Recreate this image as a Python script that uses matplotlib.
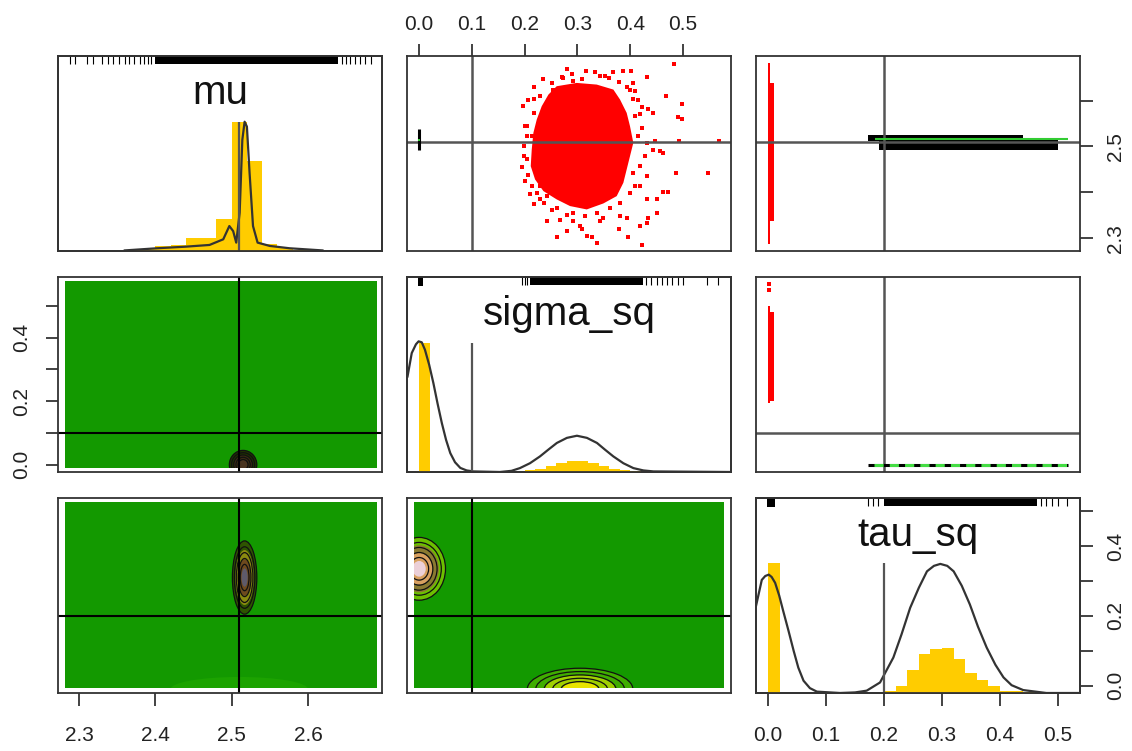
import matplotlib
matplotlib.use('Agg')
import matplotlib.pyplot as plt
from matplotlib.patches import Ellipse, Rectangle
import numpy as np

plt.rcParams['font.family'] = ['Liberation Sans', 'DejaVu Sans']

# ---- data ----
var_names = ['mu', 'sigma_sq', 'tau_sq']
var_lims = [(2.2725, 2.697), (-0.023, 0.591), (-0.021, 0.538)]
true_vals = [2.51, 0.1, 0.2]
img_ranges = [(2.282, 2.690), (-0.010, 0.577), (-0.008, 0.526)]

mu_ticks = [2.3, 2.4, 2.5, 2.6]
frac_ticks = [0.0, 0.1, 0.2, 0.3, 0.4, 0.5]

# histograms (bin left edge, relative height), bin width 0.02
mu_bins = [2.36, 2.38, 2.40, 2.42, 2.44, 2.46, 2.48, 2.50, 2.52, 2.54, 2.56, 2.58, 2.60]
mu_hist = [0.005, 0.009, 0.026, 0.031, 0.065, 0.065, 0.162, 0.663, 0.459, 0.034, 0.017, 0.005, 0.004]
sigma_bins = [0.0, 0.20, 0.22, 0.24, 0.26, 0.28, 0.30, 0.32, 0.34, 0.36, 0.38, 0.40, 0.42]
sigma_hist = [0.66, 0.008, 0.014, 0.030, 0.046, 0.058, 0.058, 0.046, 0.030, 0.016, 0.008, 0.004, 0.002]
tau_bins = [0.0, 0.20, 0.22, 0.24, 0.26, 0.28, 0.30, 0.32, 0.34, 0.36, 0.38, 0.40, 0.42, 0.44]
tau_hist = [0.667, 0.012, 0.037, 0.117, 0.199, 0.225, 0.232, 0.173, 0.105, 0.066, 0.037, 0.012, 0.008, 0.003]

# density curves (relative height)
mu_dens_x = [2.360, 2.402, 2.439, 2.471, 2.489, 2.497, 2.502, 2.506, 2.5105, 2.514, 2.517,
             2.520, 2.5235, 2.528, 2.534, 2.550, 2.576, 2.619]
mu_dens_y = [0.003, 0.014, 0.022, 0.031, 0.060, 0.128, 0.102, 0.043, 0.196, 0.570, 0.663,
             0.638, 0.400, 0.128, 0.043, 0.026, 0.014, 0.003]
sigma_dens_x = [-0.022, -0.014, -0.006, -0.001, 0.005, 0.011, 0.019, 0.027, 0.035, 0.043, 0.051,
                0.059, 0.068, 0.078, 0.090, 0.103, 0.153, 0.175, 0.191, 0.210, 0.229, 0.245,
                0.261, 0.280, 0.299, 0.318, 0.337, 0.352, 0.368, 0.387, 0.406, 0.425, 0.444, 0.589]
sigma_dens_y = [0.49, 0.61, 0.655, 0.67, 0.665, 0.627, 0.55, 0.456, 0.35, 0.251, 0.165,
                0.097, 0.05, 0.021, 0.008, 0.003, 0.0, 0.006, 0.02, 0.045, 0.08, 0.115,
                0.149, 0.175, 0.186, 0.175, 0.149, 0.115, 0.08, 0.045, 0.02, 0.008, 0.003, 0.0]
tau_dens_x = [-0.021, -0.011, -0.005, 0.001, 0.006, 0.012, 0.019, 0.026, 0.035, 0.044, 0.052,
              0.061, 0.072, 0.084, 0.124, 0.150, 0.170, 0.193, 0.216, 0.230, 0.245, 0.260,
              0.274, 0.286, 0.297, 0.309, 0.320, 0.334, 0.348, 0.362, 0.377, 0.392, 0.406,
              0.420, 0.440, 0.480, 0.538]
tau_dens_y = [0.446, 0.58, 0.60, 0.607, 0.595, 0.565, 0.50, 0.42, 0.32, 0.216, 0.13,
              0.063, 0.025, 0.007, 0.0, 0.003, 0.012, 0.054, 0.182, 0.30, 0.437, 0.54,
              0.624, 0.652, 0.662, 0.652, 0.624, 0.55, 0.454, 0.34, 0.233, 0.145, 0.08,
              0.04, 0.015, 0.0, 0.0]

# rugs: dense band (lo, hi), solid block (lo, hi) and separate ticks
mu_rug_band = (2.40, 2.64)
mu_rug_ticks = [2.288, 2.295, 2.31, 2.318, 2.33, 2.338, 2.345, 2.352, 2.36, 2.366, 2.372,
                2.38, 2.385, 2.39, 2.395, 2.645, 2.65, 2.655, 2.662, 2.668, 2.675, 2.683]
sigma_rug_block = (-0.003, 0.008)
sigma_rug_band = (0.21, 0.425)
sigma_rug_ticks = [0.195, 0.2, 0.205, 0.43, 0.44, 0.45, 0.46, 0.47, 0.48, 0.49, 0.50, 0.545, 0.567]
tau_rug_block = (-0.002, 0.012)
tau_rug_band = (0.199, 0.463)
tau_rug_ticks = [0.173, 0.18, 0.19, 0.47, 0.48, 0.49, 0.50, 0.515]

# sigma_sq vs mu cloud: outline of the solid core + scattered points
core_sigma = [0.2607, 0.2986, 0.3365, 0.3681, 0.3807, 0.3933, 0.3996, 0.4059, 0.3996, 0.3933,
              0.3870, 0.3744, 0.3491, 0.3176, 0.2860, 0.2607, 0.2355, 0.2197, 0.2115, 0.2134,
              0.2165, 0.2229, 0.2323, 0.2450]
core_mu = [2.6312, 2.6384, 2.6348, 2.6239, 2.6022, 2.5732, 2.5442, 2.5080, 2.4790, 2.4500,
           2.4210, 2.3920, 2.3760, 2.3630, 2.3703, 2.3848, 2.4029, 2.4283, 2.4572, 2.4935,
           2.5297, 2.5587, 2.5877, 2.6130]
cloud_x = [0.483, 0.280, 0.316, 0.333, 0.352, 0.368, 0.386, 0.402, 0.431, 0.235, 0.272, 0.292,
           0.217, 0.468, 0.499, 0.491, 0.499, 0.196, 0.217, 0.406, 0.422, 0.434, 0.444, 0.569,
           0.493, 0.463, 0.487, 0.548, 0.194, 0.204, 0.199, 0.463, 0.472, 0.450, 0.210, 0.217,
           0.229, 0.251, 0.280, 0.261, 0.280, 0.308, 0.318, 0.327, 0.337, 0.378, 0.396, 0.422,
           0.431, 0.434, 0.451, 0.419, 0.343, 0.292, 0.242, 0.393, 0.431, 0.447, 0.456, 0.406,
           0.400, 0.254, 0.419, 0.431, 0.204, 0.214, 0.229, 0.242,
           0.270, 0.289, 0.308, 0.343, 0.359, 0.378, 0.393, 0.409, 0.415, 0.251, 0.229, 0.207,
           0.217, 0.201, 0.204, 0.198, 0.207, 0.201, 0.213, 0.223, 0.236, 0.261, 0.292, 0.314,
           0.337, 0.362, 0.381, 0.400, 0.409, 0.406, 0.419, 0.428, 0.444, 0.415, 0.422, 0.409,
           0.419, 0.431, 0.381, 0.349, 0.305, 0.267]
cloud_y = [2.680, 2.669, 2.664, 2.662, 2.654, 2.662, 2.664, 2.664, 2.652, 2.646, 2.649, 2.642,
           2.630, 2.609, 2.593, 2.565, 2.559, 2.588, 2.604, 2.603, 2.586, 2.581, 2.573, 2.512,
           2.512, 2.486, 2.443, 2.443, 2.456, 2.472, 2.501, 2.401, 2.401, 2.385, 2.396, 2.374,
           2.385, 2.362, 2.350, 2.304, 2.316, 2.320, 2.305, 2.302, 2.291, 2.321, 2.304, 2.285,
           2.334, 2.345, 2.356, 2.327, 2.338, 2.338, 2.338, 2.345, 2.508, 2.512, 2.490, 2.638,
           2.624, 2.623, 2.414, 2.435, 2.544, 2.522, 2.414, 2.392,
           2.651, 2.657, 2.647, 2.654, 2.649, 2.640, 2.630, 2.620, 2.602, 2.638, 2.609, 2.602,
           2.573, 2.544, 2.522, 2.479, 2.439, 2.425, 2.414, 2.399, 2.378, 2.367, 2.356, 2.349,
           2.356, 2.367, 2.378, 2.399, 2.414, 2.443, 2.457, 2.479, 2.493, 2.522, 2.541, 2.566,
           2.570, 2.385, 2.349, 2.345, 2.327, 2.341]
stuck_sigma = 0.0
stuck_mu = (2.493, 2.537)

# tau_sq strips
tau_strip_mu_thin = (2.287, 2.682)
tau_strip_mu_wide = (2.338, 2.638)
tau_strip_sigma_thin = (0.193, 0.500)
tau_strip_sigma_wide = (0.200, 0.480)
tau_strip_sigma_dots = [0.549, 0.568]
tau_strip_width = 0.010
band_upper = (0.172, 0.44, 2.513, 2.526)
band_lower = (0.192, 0.50, 2.493, 2.515)
band_green_tau = (0.184, 0.517)
band_green_mu = 2.517
band_sigma_tau = (0.172, 0.517)

# density blobs in lower panels: centre x, centre y, half width, half height
blob_mu_sigma = (2.515, 0.0, 0.018, 0.045)
blob_mu_tau = (2.517, 0.31, 0.016, 0.105)
blob_sigma_tau_left = (0.0, 0.335, 0.05, 0.09)
blob_sigma_tau_bottom = (0.305, -0.01, 0.10, 0.06)
faint_mu_tau = (2.51, -0.01, 0.09, 0.035)

GREEN = '#139900'
FRAME = '#333333'

fig = plt.figure(figsize=(11.32, 7.51), dpi=100)
col_left = [58, 407, 756]
row_top = [56, 277, 498]


def make_ax(r, c):
    ax = fig.add_axes([col_left[c] / 1132, 1 - (row_top[r] + 195) / 751, 324 / 1132, 195 / 751])
    ax.set_xlim(var_lims[c])
    ax.set_ylim(var_lims[r])
    ax.set_xticks([])
    ax.set_yticks([])
    for s in ax.spines.values():
        s.set_color(FRAME)
        s.set_linewidth(1.3)
    ax.tick_params(direction='out', length=9, width=1.2, labelsize=15,
                   colors='#222222')
    return ax


def draw_blob(ax, blob, colors, clip, n_lines=5):
    cx, cy, hw, hh = blob
    k = len(colors)
    for i, col in enumerate(colors):
        f = 1.0 - i / k
        e = Ellipse((cx, cy), 2 * hw * f, 2 * hh * f, facecolor=col, edgecolor='none')
        ax.add_patch(e)
        e.set_clip_path(clip)
    for i in range(n_lines):
        f = 1.0 - i * 0.16
        e = Ellipse((cx, cy), 2 * hw * f, 2 * hh * f, facecolor='none',
                    edgecolor='#111111', lw=0.9)
        ax.add_patch(e)
        e.set_clip_path(clip)


def green_image(ax, r, c):
    x0, x1 = img_ranges[c]
    y0, y1 = img_ranges[r]
    rect = Rectangle((x0, y0), x1 - x0, y1 - y0, facecolor=GREEN, edgecolor='none')
    ax.add_patch(rect)
    return rect


def diag(ax, c, bins, heights, dx, dy, rug_band, rug_ticks, rug_block=None):
    d = ax.twinx()
    d.set_ylim(0, 1)
    d.set_yticks([])
    for s in d.spines.values():
        s.set_color(FRAME)
        s.set_linewidth(1.3)
    d.bar(bins, heights, width=0.02, align='edge', color='#FFCC00', edgecolor='none')
    d.plot(dx, dy, color='#333333', lw=1.6)
    d.vlines(true_vals[c], 0, max(heights), color='#555555', lw=1.6)
    d.add_patch(Rectangle((rug_band[0], 0.96), rug_band[1] - rug_band[0], 0.04,
                          facecolor='black', edgecolor='none'))
    if rug_block is not None:
        d.add_patch(Rectangle((rug_block[0], 0.955), rug_block[1] - rug_block[0], 0.045,
                              facecolor='black', edgecolor='none'))
    d.vlines(rug_ticks, 0.96, 1.0, color='black', lw=0.8)
    d.text(0.5, 0.81, var_names[c], transform=d.transAxes, ha='center', va='center',
           fontsize=29, color='#111111')
    return d


# ---- row 1 ----
ax11 = make_ax(0, 0)
diag(ax11, 0, mu_bins, mu_hist, mu_dens_x, mu_dens_y, mu_rug_band, mu_rug_ticks)

ax12 = make_ax(0, 1)
ax12.fill(core_sigma, core_mu, color='#FF0000', lw=0)
ax12.plot(cloud_x, cloud_y, 's', color='#FF0000', ms=2.6, mew=0)
ax12.axvline(true_vals[1], color='#555555', lw=1.8)
ax12.axhline(true_vals[0], color='#555555', lw=1.8)
ax12.vlines(stuck_sigma, stuck_mu[0], stuck_mu[1], color='black', lw=2.2)
ax12.plot([stuck_sigma], [np.mean(stuck_mu)], 's', color='#33cc33', ms=2, mew=0)
ax12.xaxis.tick_top()
ax12.set_xticks(frac_ticks)
ax12.set_xticklabels(['0.0', '0.1', '0.2', '0.3', '0.4', '0.5'])
ax12.tick_params(axis='x', pad=7)

ax13 = make_ax(0, 2)
ax13.axvline(true_vals[2], color='#555555', lw=1.8)
ax13.axhline(true_vals[0], color='#555555', lw=1.8)
ax13.add_patch(Rectangle((0.0, tau_strip_mu_thin[0]), 0.004,
                         tau_strip_mu_thin[1] - tau_strip_mu_thin[0], facecolor='#FF0000',
                         edgecolor='none'))
ax13.add_patch(Rectangle((0.0, tau_strip_mu_wide[0]), tau_strip_width,
                         tau_strip_mu_wide[1] - tau_strip_mu_wide[0], facecolor='#FF0000',
                         edgecolor='none'))
ax13.add_patch(Rectangle((band_upper[0], band_upper[2]), band_upper[1] - band_upper[0],
                         band_upper[3] - band_upper[2], facecolor='black', edgecolor='none'))
ax13.add_patch(Rectangle((band_lower[0], band_lower[2]), band_lower[1] - band_lower[0],
                         band_lower[3] - band_lower[2], facecolor='black', edgecolor='none'))
ax13.hlines(band_green_mu, band_green_tau[0], band_green_tau[1], color='#33cc33', lw=1.5)
ax13.yaxis.tick_right()
ax13.set_yticks(mu_ticks)
ax13.set_yticklabels(['2.3', '', '2.5', ''], rotation=90, va='center')
ax13.tick_params(axis='y', pad=10)

# ---- row 2 ----
ax21 = make_ax(1, 0)
img = green_image(ax21, 1, 0)
draw_blob(ax21, blob_mu_sigma, ['#1f3300', '#3b2d10', '#4a3520'], img)
ax21.axvline(true_vals[0], color='black', lw=1.5)
ax21.axhline(true_vals[1], color='black', lw=1.5)
ax21.set_yticks(frac_ticks)
ax21.set_yticklabels(['0.0', '', '0.2', '', '0.4', ''], rotation=90, va='center')
ax21.tick_params(axis='y', pad=10)

ax22 = make_ax(1, 1)
diag(ax22, 1, sigma_bins, sigma_hist, sigma_dens_x, sigma_dens_y, sigma_rug_band,
     sigma_rug_ticks, sigma_rug_block)

ax23 = make_ax(1, 2)
ax23.axvline(true_vals[2], color='#555555', lw=1.8)
ax23.axhline(true_vals[1], color='#555555', lw=1.8)
ax23.add_patch(Rectangle((0.0, tau_strip_sigma_thin[0]), 0.004,
                         tau_strip_sigma_thin[1] - tau_strip_sigma_thin[0],
                         facecolor='#FF0000', edgecolor='none'))
ax23.add_patch(Rectangle((0.0, tau_strip_sigma_wide[0]), tau_strip_width,
                         tau_strip_sigma_wide[1] - tau_strip_sigma_wide[0],
                         facecolor='#FF0000', edgecolor='none'))
ax23.plot([0.002] * len(tau_strip_sigma_dots), tau_strip_sigma_dots, 's', color='#FF0000',
          ms=2.4, mew=0)
ax23.hlines(0.0, band_sigma_tau[0], band_sigma_tau[1], color='black', lw=2.2)
ax23.hlines(0.0, band_sigma_tau[0] + 0.01, band_sigma_tau[1], color='#44dd44', lw=2.2,
            linestyles=(0, (3, 2)))

# ---- row 3 ----
ax31 = make_ax(2, 0)
img = green_image(ax31, 2, 0)
draw_blob(ax31, faint_mu_tau, ['#1ca300'], img, n_lines=0)
draw_blob(ax31, blob_mu_tau, ['#2e5400', '#8a8a10', '#6e4a1e', '#5e5a6a'], img)
ax31.axvline(true_vals[0], color='black', lw=1.5)
ax31.axhline(true_vals[2], color='black', lw=1.5)
ax31.set_xticks(mu_ticks)
ax31.set_xticklabels(['2.3', '2.4', '2.5', '2.6'])
ax31.tick_params(axis='x', pad=15)

ax32 = make_ax(2, 1)
img = green_image(ax32, 2, 1)
draw_blob(ax32, blob_sigma_tau_left, ['#6cc000', '#8a7a30', '#d8a060', '#ecd0d8'], img)
draw_blob(ax32, blob_sigma_tau_bottom, ['#40ad00', '#a0d000', '#e8e400'], img)
ax32.axvline(true_vals[1], color='black', lw=1.5)
ax32.axhline(true_vals[2], color='black', lw=1.5)

ax33 = make_ax(2, 2)
diag(ax33, 2, tau_bins, tau_hist, tau_dens_x, tau_dens_y, tau_rug_band, tau_rug_ticks,
     tau_rug_block)
ax33.set_xticks(frac_ticks)
ax33.set_xticklabels(['0.0', '0.1', '0.2', '0.3', '0.4', '0.5'])
ax33.tick_params(axis='x', pad=15)
ax33.yaxis.tick_right()
ax33.set_yticks(frac_ticks)
ax33.set_yticklabels(['0.0', '', '0.2', '', '0.4', ''], rotation=90, va='center')
ax33.tick_params(axis='y', pad=10)

fig.savefig('out.png', dpi=100, facecolor='white')
plt.close('all')
